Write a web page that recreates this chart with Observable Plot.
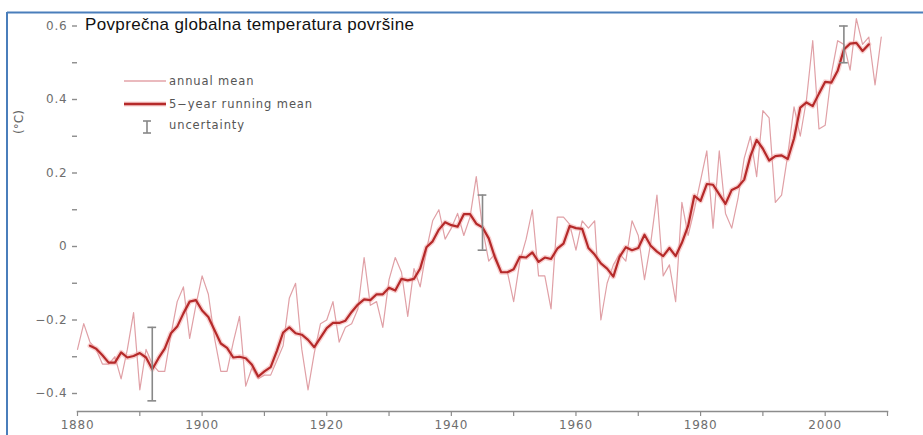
<!DOCTYPE html>
<html><head><meta charset="utf-8">
<script src="https://cdn.jsdelivr.net/npm/d3@7"></script>
<script src="https://cdn.jsdelivr.net/npm/@observablehq/plot@0.6"></script>
<style>
body{margin:0;background:#fff;}
#wrap{position:relative;width:923px;height:435px;overflow:hidden;background:#fff;}
#chart{position:absolute;left:0;top:0;}
#overlay{position:absolute;left:0;top:0;pointer-events:none;}
</style>
</head><body>
<div id="wrap"><div id="chart"></div>
<svg id="overlay" width="923" height="435" xmlns="http://www.w3.org/2000/svg">
  <line x1="7" y1="12.5" x2="923" y2="12.5" stroke="#4a7ebb" stroke-width="2"/>
  <line x1="7" y1="12" x2="7" y2="435" stroke="#4a7ebb" stroke-width="2"/>
  <text x="85" y="29.5" font-family="'Liberation Sans', Arial, sans-serif" font-size="17" letter-spacing="0.35" fill="#111">Povprečna globalna temperatura površine</text>
  <g id="legend" font-family="'DejaVu Sans', sans-serif" font-size="11.5" letter-spacing="0.9" fill="#555">
    <line x1="124" x2="166" y1="81" y2="81" stroke="#e3a3a8" stroke-width="1.3"/>
    <text x="169" y="85">annual mean</text>
    <line x1="124" x2="166" y1="104" y2="104" stroke="#f4a3a3" stroke-width="5" stroke-opacity="0.5"/>
    <line x1="124" x2="166" y1="104" y2="104" stroke="#b52a2a" stroke-width="2.3"/>
    <text x="169" y="108">5−year running mean</text>
    <line x1="147" x2="147" y1="121" y2="133" stroke="#888" stroke-width="1.6"/>
    <line x1="143" x2="151" y1="121" y2="121" stroke="#888" stroke-width="1.6"/>
    <line x1="143" x2="151" y1="133" y2="133" stroke="#888" stroke-width="1.6"/>
    <text x="169" y="129">uncertainty</text>
  </g>
  <text transform="translate(23,122) rotate(-90)" text-anchor="middle" font-family="'DejaVu Sans', sans-serif" font-size="12" fill="#666">(°C)</text>
</svg>
</div>
<script>
// Annual mean anomalies (°C), 1880–2009
const annualStart = 1880;
const annual = [
 -0.28,-0.21,-0.26,-0.28,-0.32,-0.32,-0.30,-0.36,-0.28,-0.18,
 -0.39,-0.28,-0.32,-0.34,-0.34,-0.24,-0.15,-0.11,-0.25,-0.16,
 -0.08,-0.13,-0.25,-0.34,-0.34,-0.26,-0.19,-0.38,-0.33,-0.36,
 -0.35,-0.35,-0.31,-0.27,-0.14,-0.10,-0.28,-0.39,-0.29,-0.21,
 -0.20,-0.15,-0.26,-0.22,-0.21,-0.17,-0.03,-0.16,-0.15,-0.22,
 -0.09,-0.03,-0.07,-0.19,-0.06,-0.11,-0.01,0.07,0.10,0.02,
 0.05,0.09,0.03,0.08,0.19,0.05,-0.04,-0.02,-0.07,-0.07,
 -0.15,-0.04,0.02,0.10,-0.08,-0.08,-0.17,0.08,0.08,0.06,
 -0.01,0.07,0.05,0.07,-0.20,-0.10,-0.05,-0.02,-0.04,0.07,
 0.03,-0.09,0.01,0.14,-0.08,-0.05,-0.15,0.12,0.03,0.10,
 0.18,0.26,0.05,0.26,0.09,0.05,0.13,0.24,0.30,0.19,
 0.37,0.35,0.12,0.14,0.25,0.38,0.30,0.40,0.56,0.32,
 0.33,0.47,0.56,0.55,0.48,0.62,0.55,0.57,0.44,0.57
];
// 5-year running mean (°C), 1882–2007
const smoothStart = 1882;
const smooth = [
 -0.270,-0.278,-0.296,-0.316,-0.316,-0.288,-0.302,-0.298,-0.290,-0.302,
 -0.334,-0.304,-0.278,-0.236,-0.218,-0.182,-0.150,-0.146,-0.174,-0.192,
 -0.228,-0.264,-0.276,-0.302,-0.300,-0.304,-0.322,-0.354,-0.340,-0.328,
 -0.284,-0.234,-0.220,-0.236,-0.240,-0.254,-0.274,-0.248,-0.222,-0.208,
 -0.208,-0.202,-0.178,-0.158,-0.144,-0.146,-0.130,-0.130,-0.112,-0.120,
 -0.088,-0.092,-0.088,-0.060,-0.002,0.014,0.046,0.066,0.058,0.054,
 0.088,0.088,0.062,0.052,0.022,-0.030,-0.070,-0.070,-0.062,-0.028,
 -0.030,-0.016,-0.042,-0.030,-0.034,-0.006,0.008,0.056,0.050,0.048,
 -0.004,-0.022,-0.046,-0.060,-0.082,-0.028,-0.002,-0.010,-0.004,0.032,
 0.002,-0.014,-0.026,-0.004,-0.026,0.010,0.056,0.138,0.124,0.170,
 0.168,0.142,0.116,0.154,0.162,0.182,0.246,0.290,0.266,0.234,
 0.246,0.248,0.238,0.294,0.378,0.392,0.382,0.416,0.448,0.446,
 0.478,0.536,0.552,0.554,0.532,0.550
];
// Uncertainty bars
const errYears = [1892, 1945, 2003];
const errLow = [-0.42, -0.01, 0.50];
const errHigh = [-0.22, 0.14, 0.60];
// Axis ticks
const xTicks = [1880,1890,1900,1910,1920,1930,1940,1950,1960,1970,1980,1990,2000,2010];
const xTickLabels = [1880,1900,1920,1940,1960,1980,2000];
const yMajor = [-0.4,-0.2,0,0.2,0.4,0.6];
const yMinor = [-0.3,-0.1,0.1,0.3,0.5];

const annualData = annual.map((v,i)=>({year: annualStart+i, value: v}));
const smoothData = smooth.map((v,i)=>({year: smoothStart+i, value: v}));
const errData = errYears.map((y,i)=>({year: y, lo: errLow[i], hi: errHigh[i]}));
const fmtY = d => d === 0 ? "0" : (d < 0 ? "\u2212" : "") + Math.abs(d).toFixed(1);

const chart = Plot.plot({
  width: 923, height: 435,
  marginLeft: 77, marginRight: 36, marginTop: 20, marginBottom: 24,
  x: {domain: [1880, 2010], range: [77, 887]},
  y: {domain: [-0.4, 0.6], range: [393, 25.5]},
  style: {fontFamily: "'DejaVu Sans', sans-serif", fontSize: "12px", color: "#6e6e6e", background: "transparent", letterSpacing: "0.8px"},
  marks: [
    Plot.frame({anchor: "bottom", stroke: "#8c8c8c", strokeWidth: 1.5, strokeOpacity: 1}),
    Plot.axisX({ticks: xTicks, tickFormat: d => xTickLabels.includes(d) ? String(d) : "", tickSize: 5, tickPadding: 4, label: null, stroke: "#8c8c8c", strokeWidth: 1.2}),
    Plot.axisY({ticks: yMajor, tickFormat: fmtY, tickSize: 5, tickPadding: 5, label: null, stroke: "#8c8c8c", strokeWidth: 1.4}),
    Plot.axisY({ticks: yMinor, tickFormat: () => "", tickSize: 5, tickPadding: 5, label: null, stroke: "#8c8c8c", strokeWidth: 1.4}),
    Plot.line(annualData, {x: "year", y: "value", stroke: "#e0a0a6", strokeWidth: 1.2}),
    Plot.line(smoothData, {x: "year", y: "value", stroke: "#f4a3a3", strokeWidth: 5, strokeOpacity: 0.5}),
    Plot.line(smoothData, {x: "year", y: "value", stroke: "#b52a2a", strokeWidth: 2.2}),
    Plot.ruleX(errData, {x: "year", y1: "lo", y2: "hi", stroke: "#888", strokeWidth: 1.6}),
    Plot.ruleY(errData, {y: "lo", x1: d => d.year - 0.7, x2: d => d.year + 0.7, stroke: "#888", strokeWidth: 1.6}),
    Plot.ruleY(errData, {y: "hi", x1: d => d.year - 0.7, x2: d => d.year + 0.7, stroke: "#888", strokeWidth: 1.6})
  ]
});
document.getElementById("chart").appendChild(chart);
</script>
</body></html>
